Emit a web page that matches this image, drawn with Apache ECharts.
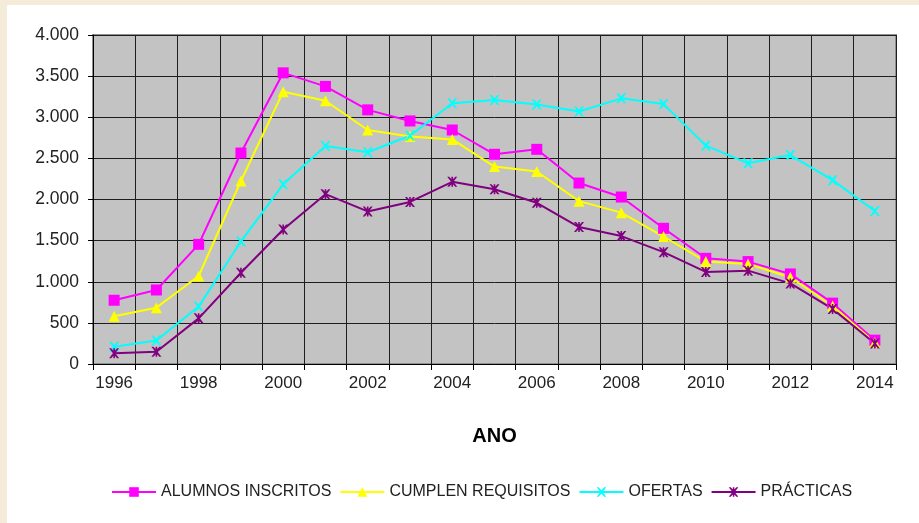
<!DOCTYPE html>
<html>
<head>
<meta charset="utf-8">
<script src="https://cdn.jsdelivr.net/npm/echarts@6/dist/echarts.min.js"></script>
<style>
  html, body { margin: 0; padding: 0; background: #f4ecd9; }
  #frame { position: absolute; left: 7px; top: 5px; right: 0; bottom: 0; background: #fff; }
  #main { position: absolute; left: 0; top: 0; width: 919px; height: 523px; }
</style>
</head>
<body>
<div id="frame"></div>
<div id="main"></div>
<script>
  // años
  var anos = ['1996','1997','1998','1999','2000','2001','2002','2003','2004','2005',
              '2006','2007','2008','2009','2010','2011','2012','2013','2014'];
  var alumnosInscritos = [775, 900, 1455, 2565, 3540, 3375, 3090, 2955, 2845, 2550,
                          2610, 2200, 2030, 1650, 1285, 1245, 1095, 740, 290];
  var cumplenRequisitos = [580, 685, 1070, 2225, 3310, 3200, 2845, 2765, 2730, 2400,
                           2340, 1980, 1840, 1550, 1245, 1215, 1055, 705, 260];
  var ofertas = [210, 285, 700, 1490, 2185, 2650, 2575, 2775, 3170, 3210,
                 3155, 3070, 3230, 3160, 2655, 2440, 2540, 2235, 1860];
  var practicas = [130, 150, 555, 1110, 1635, 2065, 1855, 1970, 2215, 2125,
                   1960, 1665, 1555, 1360, 1120, 1135, 980, 670, 250];

  var crossPath = 'path://M0,0 L2,0 L5,3.2 L8,0 L10,0 L6.2,5 L10,10 L8,10 L5,6.8 L2,10 L0,10 L3.8,5 Z';
  var starPath = crossPath + ' M4.2,0 L5.8,0 L5.8,10 L4.2,10 Z';

  var chart = echarts.init(document.getElementById('main'));

  function serie(nombre, datos, color, symbol, size) {
    return {
      name: nombre,
      type: 'line',
      data: datos,
      symbol: symbol,
      symbolSize: size,
      showAllSymbol: true,
      lineStyle: { color: color, width: 2 },
      itemStyle: { color: color, borderWidth: 0 },
      emphasis: { disabled: true }
    };
  }

  var option = {
    animation: false,
    textStyle: { fontFamily: 'Liberation Sans, Arial, sans-serif' },
    grid: {
      left: 93, right: 23, top: 35, bottom: 159,
      show: true,
      backgroundColor: '#c3c3c3',
      borderColor: '#8f8f8f',
      borderWidth: 2
    },
    legend: {
      bottom: 18,
      left: 106,
      itemWidth: 44,
      itemHeight: 12,
      itemGap: 8,
      textStyle: { fontSize: 16, color: '#222' },
      data: ['ALUMNOS INSCRITOS', 'CUMPLEN REQUISITOS', 'OFERTAS', 'PRÁCTICAS']
    },
    xAxis: {
      type: 'category',
      data: anos,
      boundaryGap: true,
      name: 'ANO',
      nameLocation: 'center',
      nameGap: 62,
      nameTextStyle: { fontSize: 20, fontWeight: 'bold', color: '#000' },
      axisLine: { lineStyle: { color: '#000', width: 1 } },
      axisTick: { show: true, interval: 0, length: 6, lineStyle: { color: '#000' } },
      axisLabel: { interval: 1, fontSize: 17, color: '#222', margin: 11 },
      splitLine: { show: true, interval: 0, lineStyle: { color: '#1e1e1e', width: 1 } }
    },
    yAxis: {
      type: 'value',
      min: 0,
      max: 4000,
      interval: 500,
      axisLine: { show: true, lineStyle: { color: '#000', width: 1 } },
      axisTick: { show: true, length: 5, lineStyle: { color: '#000' } },
      axisLabel: {
        fontSize: 17.5, color: '#222', margin: 14,
        formatter: function (v) { return String(v).replace(/\B(?=(\d{3})+(?!\d))/g, '.'); }
      },
      splitLine: { show: true, lineStyle: { color: '#1e1e1e', width: 1 } }
    },
    series: [
      serie('ALUMNOS INSCRITOS', alumnosInscritos, '#ff00ff', 'rect', 11),
      serie('CUMPLEN REQUISITOS', cumplenRequisitos, '#ffff00', 'triangle', 11),
      serie('OFERTAS', ofertas, '#00ffff', crossPath, 10),
      serie('PRÁCTICAS', practicas, '#800080', starPath, 10)
    ]
  };

  chart.setOption(option);
</script>
</body>
</html>
